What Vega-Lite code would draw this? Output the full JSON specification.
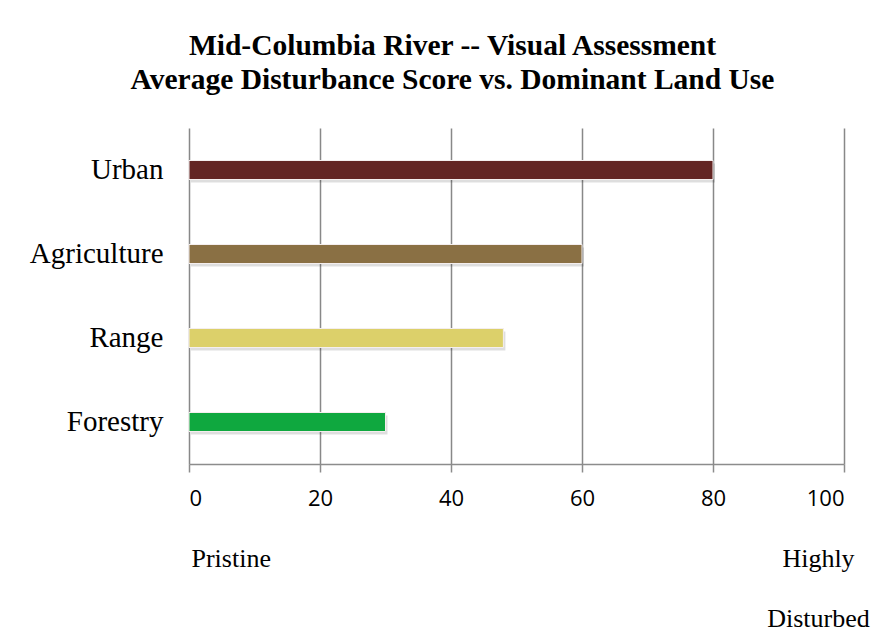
{
  "$schema": "https://vega.github.io/schema/vega-lite/v6.json",
  "width": 655,
  "height": 336,
  "autosize": {"type": "none"},
  "padding": {"left": 189, "top": 128, "right": 43, "bottom": 178},
  "background": "white",
  "config": {"view": {"stroke": null}},
  "title": {
    "text": ["Mid-Columbia River -- Visual Assessment", "Average Disturbance Score vs. Dominant Land Use"],
    "font": "Liberation Serif",
    "fontSize": 29.5,
    "fontWeight": "bold",
    "color": "black",
    "anchor": "middle",
    "frame": "group",
    "dx": -64,
    "lineHeight": 34,
    "offset": 33
  },
  "data": {
    "values": [
      {"landuse": "Urban", "score": 80},
      {"landuse": "Agriculture", "score": 60},
      {"landuse": "Range", "score": 48},
      {"landuse": "Forestry", "score": 30}
    ]
  },
  "encoding": {
    "y": {
      "field": "landuse",
      "type": "nominal",
      "sort": ["Urban", "Agriculture", "Range", "Forestry"],
      "axis": {
        "title": null,
        "ticks": false,
        "domain": false,
        "grid": false,
        "labelFont": "Liberation Serif",
        "labelFontSize": 29,
        "labelColor": "black",
        "labelPadding": 26
      }
    }
  },
  "layer": [
    {
      "mark": {"type": "bar", "size": 19, "color": "black", "opacity": 0.13, "xOffset": 2, "yOffset": 3},
      "encoding": {
        "x": {
          "field": "score",
          "type": "quantitative",
          "scale": {"domain": [0, 100]},
          "axis": {
            "values": [0, 20, 40, 60, 80, 100],
            "grid": true,
            "gridColor": "#888888",
            "gridWidth": 1.5,
            "domainColor": "#8c8c8c",
            "domainWidth": 1.5,
            "tickColor": "#8c8c8c",
            "tickWidth": 1.5,
            "tickSize": 8,
            "labelFont": "Open Sans",
            "labelFontSize": 22,
            "labelColor": "black",
            "labelPadding": 16,
            "title": "Pristine",
            "titleFont": "Liberation Serif",
            "titleFontSize": 26,
            "titleFontWeight": "normal",
            "titleColor": "black",
            "titleAnchor": "start",
            "titleAlign": "left",
            "titleBaseline": "alphabetic",
            "titleX": 2,
            "titleY": 102
          }
        }
      }
    },
    {
      "mark": {"type": "bar", "size": 19, "stroke": "#f4eeee", "strokeWidth": 1},
      "encoding": {
        "x": {
          "field": "score",
          "type": "quantitative",
          "axis": {
            "orient": "bottom",
            "labels": false,
            "ticks": false,
            "domain": false,
            "grid": false,
            "title": ["Highly", "Disturbed"],
            "titleFont": "Liberation Serif",
            "titleFontSize": 26,
            "titleFontWeight": "normal",
            "titleColor": "black",
            "titleAlign": "center",
            "titleBaseline": "alphabetic",
            "titleLineHeight": 60,
            "titleX": 629,
            "titleY": 102
          }
        },
        "color": {
          "field": "landuse",
          "type": "nominal",
          "scale": {
            "domain": ["Urban", "Agriculture", "Range", "Forestry"],
            "range": ["#632523", "#8a7044", "#dcd06a", "#0fa83f"]
          },
          "legend": null
        }
      }
    }
  ],
  "resolve": {"axis": {"x": "independent"}}
}
